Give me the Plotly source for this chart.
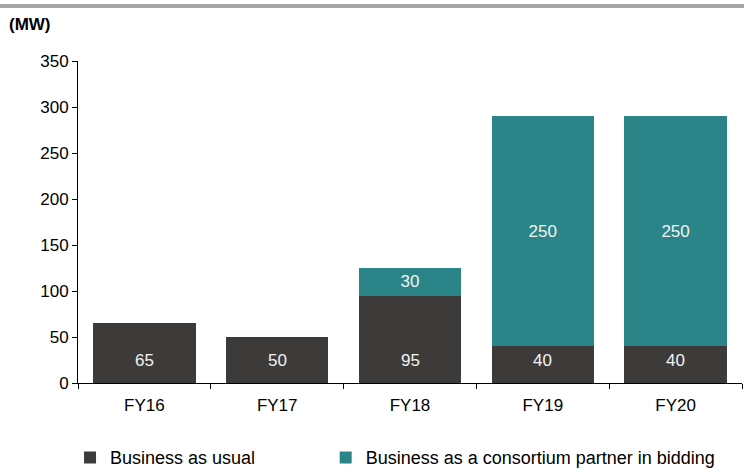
import plotly.graph_objects as go

years = ["FY16", "FY17", "FY18", "FY19", "FY20"]
business_as_usual = [65, 50, 95, 40, 40]
consortium_partner = [None, None, 30, 250, 250]

DARK = "#3c3b3a"
TEAL = "#2b8588"
FONT = "Liberation Sans, Arial, sans-serif"

fig = go.Figure()

fig.add_trace(go.Bar(
    x=years, y=business_as_usual,
    name="Business as usual",
    marker=dict(color=DARK, line=dict(width=0)),
    legend="legend",
))

fig.add_trace(go.Bar(
    x=years, y=consortium_partner,
    name="Business as a consortium partner in bidding",
    marker=dict(color=TEAL, line=dict(width=0)),
    text=[v if v else "" for v in consortium_partner],
    textposition="inside",
    insidetextanchor="middle",
    textfont=dict(color="#f2f2f2", size=17, family=FONT),
    textangle=0,
    legend="legend2",
))

# dark segment labels sit near the base of each bar
for yr, v in zip(years, business_as_usual):
    fig.add_annotation(
        x=yr, y=25, text=str(v), showarrow=False,
        font=dict(color="#f2f2f2", size=17, family=FONT),
    )

# unit label and the grey rule along the top
fig.add_annotation(
    xref="paper", yref="paper", x=-0.107, y=1.113,
    xanchor="left", yanchor="middle", text="<b>(MW)</b>",
    showarrow=False, font=dict(size=17, family=FONT, color="#000"),
)
fig.add_shape(type="line", xref="paper", yref="paper",
              x0=-0.2, x1=1.1, y0=1.171, y1=1.171,
              line=dict(color="#a6a6a6", width=4))

legend_common = dict(
    orientation="h", y=-0.232, xanchor="left", yanchor="middle",
    font=dict(size=18, family=FONT, color="#000"),
    itemwidth=30, bgcolor="rgba(0,0,0,0)",
)

fig.update_layout(
    barmode="stack",
    bargap=0.23,
    width=744, height=471,
    margin=dict(l=78, r=2, t=61, b=88, autoexpand=False),
    paper_bgcolor="white",
    plot_bgcolor="white",
    font=dict(family=FONT, size=17, color="#000"),
    showlegend=True,
    legend=dict(x=-0.012, **legend_common),
    legend2=dict(x=0.373, **legend_common),
    xaxis=dict(
        showline=True, linecolor="#000", linewidth=1,
        ticks="outside", ticklen=5, tickcolor="#000",
        tickson="boundaries", automargin=False,
        ticklabelstandoff=7,
        tickfont=dict(size=17, family=FONT),
    ),
    yaxis=dict(
        range=[0, 350], dtick=50,
        showline=True, linecolor="#000", linewidth=1,
        ticks="outside", ticklen=5, tickcolor="#000",
        showgrid=False, zeroline=False, automargin=False,
        tickfont=dict(size=17, family=FONT),
    ),
)

# the page's default body margin would shift the chart by 8px
fig.write_html("out.html", config={"displayModeBar": False},
               post_script="document.body.style.margin='0';")
